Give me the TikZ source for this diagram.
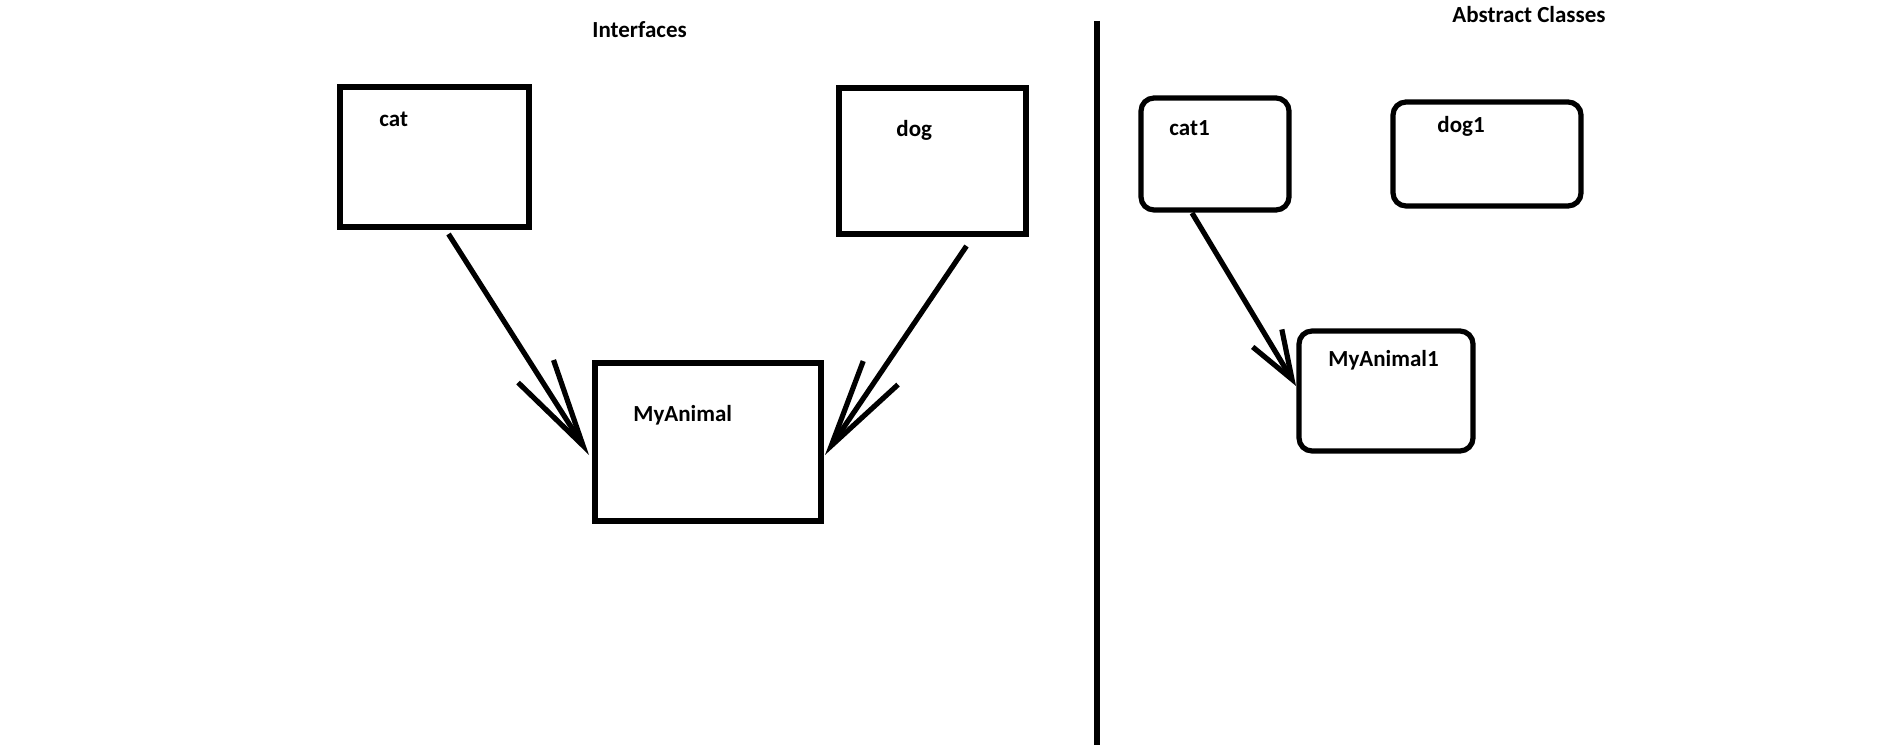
\documentclass[tikz,border=0pt]{standalone}
\usepackage{fontspec}
\setmainfont{Carlito}
\usetikzlibrary{arrows.meta,calc}

\begin{document}
\begin{tikzpicture}[x=0.5pt,y=-0.5pt,font=\fontsize{11.5pt}{13pt}\selectfont\bfseries,
	box/.style={draw, line width=2.6pt, inner sep=0pt, outer sep=0pt},
	rbox/.style={box, rounded corners=6.5pt},
	lbl/.style={anchor=base west, inner sep=0pt},
	inh/.style={line width=2.6pt, -{Straight Barb[length=44pt, width=21pt]}},
	inhs/.style={line width=2.6pt, -{Straight Barb[length=24pt, width=17pt]}}]

	\useasboundingbox (0,0) rectangle (1878,748);

	% Interfaces side
	\node[box, minimum width=94.5pt, minimum height=70pt] (cat) at (434.5,157) {};
	\node[box, minimum width=93.5pt, minimum height=73pt] (dog) at (932.5,161) {};
	\node[box, minimum width=113pt, minimum height=79pt] (myanimal) at (708,442) {};

	\draw [inh] ($(cat.south)+(14,7)$) -- ($(myanimal.west)+(-6,13)$);
	\draw [inh] ($(dog.south)+(34,12)$) -- ($(myanimal.east)+(4,13)$);

	% Divider
	\draw [line width=2.6pt] (1097,21) -- (1097,745);

	% Abstract classes side
	\node[rbox, minimum width=74pt, minimum height=56pt] (cat1) at (1215,154) {};
	\node[rbox, minimum width=94pt, minimum height=52pt] (dog1) at (1487,154) {};
	\node[rbox, minimum width=87pt, minimum height=60pt] (myanimal1) at (1386,391) {};

	\draw [inhs] ($(cat1.south)+(-23,3)$) -- ($(myanimal1.west)+(-3,-5)$);

	% Labels
	\node[lbl] (ititle) at (592,38) {Interfaces};
	\node[lbl] (atitle) at (1452,23) {Abstract Classes};
	\node[lbl] (catname) at (379,127) {cat};
	\node[lbl] (dogname) at (896,137) {dog};
	\node[lbl] (myname) at (633,422) {MyAnimal};
	\node[lbl] (cat1name) at (1169,136) {cat1};
	\node[lbl] (dog1name) at (1437,133) {dog1};
	\node[lbl] (my1name) at (1328,366) {MyAnimal1};

\end{tikzpicture}
\end{document}
